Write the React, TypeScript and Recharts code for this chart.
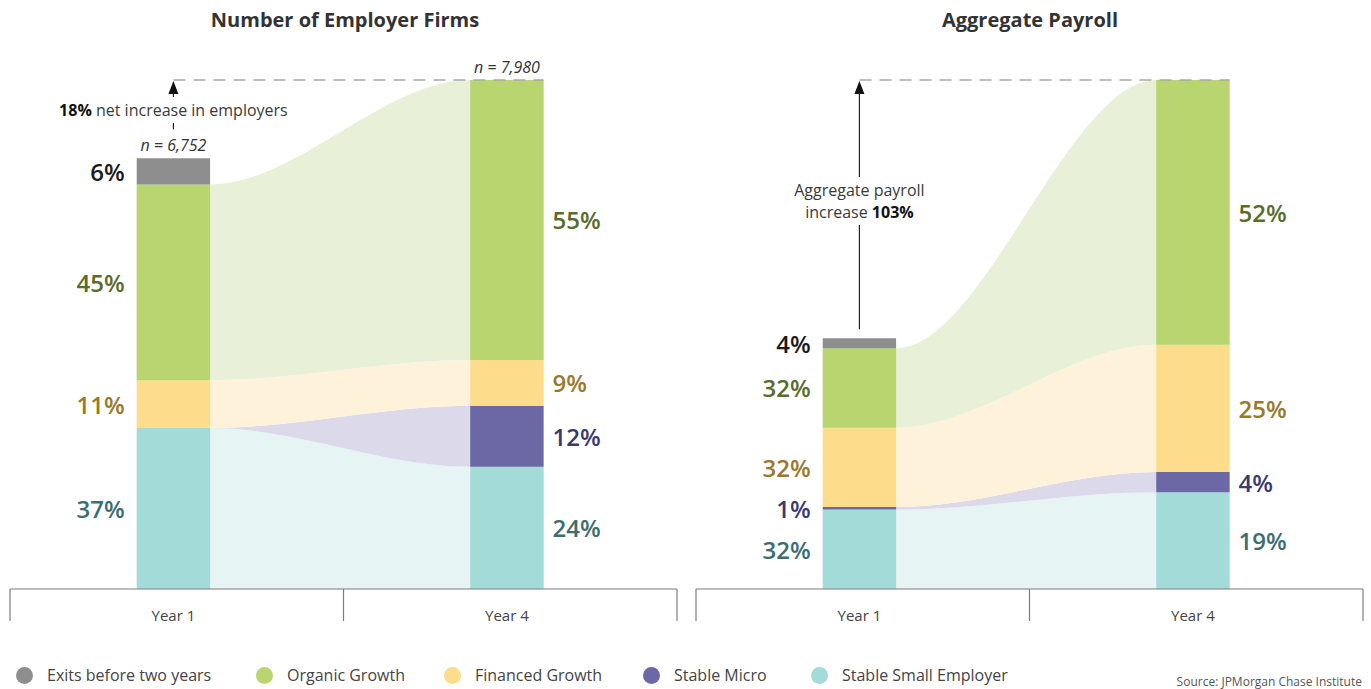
import React from "react";
import { ComposedChart, Area, XAxis, YAxis, ReferenceLine, ReferenceDot } from "recharts";

// legend order; stacked bottom -> top as Stable Small, Micro, Financed, Organic, Exits
const categories = [
  "Exits before two years",
  "Organic Growth",
  "Financed Growth",
  "Stable Micro",
  "Stable Small Employer",
];
const yearLabels = ["Year 1", "Year 4"];

// shares (%) per category
const firmsYear1 = [6, 45, 11, 0, 37];
const firmsYear4 = [0, 55, 9, 12, 24];
const firmsTotals = [6752, 7980];

const payrollYear1 = [4, 32, 32, 1, 32];
const payrollYear4 = [0, 52, 25, 4, 19];
const payrollTotals = [100, 203]; // index, +103%

const barColors = ["#8e8e8e", "#b9d56f", "#fddc8b", "#6c68a6", "#a3dbd9"];
const flowColors = ["none", "#e8f1d8", "#fef3da", "#dcd9ea", "#e6f4f3"];
const labelColors = ["#1b1b1b", "#5a6c2c", "#9a782c", "#3b3972", "#3d6e6f"];

const FONT = "'Open Sans', 'DejaVu Sans', sans-serif";
const BAR_HALF = 0.11;
const CENTER = 0.49; // bar / label position inside each year band
const STACK_ORDER = [4, 3, 2, 1, 0];

function stack(pcts: number[], total: number): [number, number][] {
  const sum = pcts.reduce((a, b) => a + b, 0);
  const out: [number, number][] = new Array(pcts.length);
  let acc = 0;
  STACK_ORDER.forEach((k) => {
    const v = (pcts[k] / sum) * total;
    out[k] = [acc, acc + v];
    acc += v;
  });
  return out;
}

type Note = {
  lines: React.ReactNode[];
  center: number; // px below the top line
  bottomGap: number; // px above year 1 bar
};

function Panel({
  year1,
  year4,
  totals,
  note,
  showN,
  width,
  marginRight,
}: {
  year1: number[];
  year4: number[];
  totals: number[];
  note: Note;
  showN: boolean;
  width: number;
  marginRight: number;
}) {
  const pcts = [year1, year4];
  const segs = [stack(year1, totals[0]), stack(year4, totals[1])];
  const centers = yearLabels.map((_, i) => i + CENTER);
  const xs = [
    centers[0] - BAR_HALF,
    centers[0] + BAR_HALF,
    centers[1] - BAR_HALF,
    centers[1] + BAR_HALF,
  ];
  const rows = xs.map((x, i) => {
    const yr = i < 2 ? 0 : 1;
    const row: Record<string, any> = { x };
    categories.forEach((_, k) => {
      row[`flow${k}`] = segs[yr][k];
      row[`bar0_${k}`] = yr === 0 ? segs[0][k] : null;
      row[`bar1_${k}`] = yr === 1 ? segs[1][k] : null;
    });
    return row;
  });

  const arrowShape = (p: any) => {
    const x = p.x1;
    const yBottom = Math.max(p.y1, p.y2);
    const yTop = Math.min(p.y1, p.y2);
    const lh = 22;
    const mid = yTop + note.center;
    const textTop = mid - (note.lines.length * lh) / 2;
    const textBottom = mid + (note.lines.length * lh) / 2;
    return (
      <g>
        <polygon
          points={`${x},${yTop + 1} ${x - 5},${yTop + 14} ${x + 5},${yTop + 14}`}
          fill="#111"
        />
        <line x1={x} x2={x} y1={yTop + 12} y2={textTop - 2} stroke="#222" strokeWidth={1.2} />
        {note.lines.map((l, i) => (
          <text
            key={i}
            x={x}
            y={textTop + lh * i + lh / 2}
            textAnchor="middle"
            dominantBaseline="central"
            fontSize={16}
            fill="#3a3a3a"
            fontFamily={FONT}
          >
            {l}
          </text>
        ))}
        <line
          x1={x}
          x2={x}
          y1={textBottom + 2}
          y2={yBottom - note.bottomGap}
          stroke="#222"
          strokeWidth={1.2}
        />
      </g>
    );
  };

  return (
    <ComposedChart
      width={width}
      height={640}
      data={rows}
      margin={{ top: 80, right: marginRight, bottom: 0, left: 10 }}
    >
      <XAxis
        dataKey="x"
        type="number"
        domain={[0, 2]}
        ticks={[0, CENTER, 1, 1 + CENTER, 2]}
        interval={0}
        height={51}
        tickSize={0}
        tickMargin={0}
        tickLine={false}
        axisLine={{ stroke: "#7d7d7d", strokeWidth: 1.2 }}
        tick={(p: any) => {
          const v = p.payload.value;
          if (Number.isInteger(v)) {
            return (
              <line x1={p.x} x2={p.x} y1={p.y} y2={p.y + 32} stroke="#7d7d7d" strokeWidth={1.2} />
            );
          }
          return (
            <text
              x={p.x}
              y={p.y + 26}
              textAnchor="middle"
              dominantBaseline="central"
              fontSize={15}
              fill="#444"
              fontFamily={FONT}
            >
              {yearLabels[Math.floor(v)]}
            </text>
          );
        }}
      />
      <YAxis hide type="number" domain={[0, totals[1]]} />

      {STACK_ORDER.filter((k) => flowColors[k] !== "none").map((k) => (
        <Area
          key={`flow${k}`}
          dataKey={`flow${k}`}
          type="monotone"
          stroke="none"
          fill={flowColors[k]}
          fillOpacity={1}
          dot={false}
          activeDot={false}
          isAnimationActive={false}
        />
      ))}
      {[0, 1].map((yr) =>
        STACK_ORDER.filter((k) => pcts[yr][k] > 0).map((k) => (
          <Area
            key={`bar${yr}_${k}`}
            dataKey={`bar${yr}_${k}`}
            type="linear"
            stroke="none"
            fill={barColors[k]}
            fillOpacity={1}
            dot={false}
            activeDot={false}
            isAnimationActive={false}
          />
        ))
      )}

      <ReferenceLine
        segment={[
          { x: centers[0], y: totals[1] },
          { x: centers[1] + BAR_HALF, y: totals[1] },
        ]}
        stroke="#a8a8a8"
        strokeWidth={1.5}
        strokeDasharray="12 8"
      />
      <ReferenceLine
        segment={[
          { x: centers[0], y: totals[0] },
          { x: centers[0], y: totals[1] },
        ]}
        shape={arrowShape}
      />

      {[0, 1].map((yr) =>
        categories.map((_, k) => {
          if (pcts[yr][k] <= 0) return null;
          const [lo, hi] = segs[yr][k];
          const edge = yr === 0 ? centers[0] - BAR_HALF : centers[1] + BAR_HALF;
          return (
            <ReferenceDot
              key={`lbl${yr}_${k}`}
              x={edge}
              y={(lo + hi) / 2}
              r={0}
              shape={(p: any) => (
                <text
                  x={yr === 0 ? p.cx - 12 : p.cx + 9}
                  y={p.cy}
                  textAnchor={yr === 0 ? "end" : "start"}
                  dominantBaseline="central"
                  fontSize={24}
                  fontWeight={600}
                  fill={labelColors[k]}
                  fontFamily={FONT}
                >
                  {pcts[yr][k]}%
                </text>
              )}
            />
          );
        })
      )}

      {showN &&
        [0, 1].map((yr) => (
          <ReferenceDot
            key={`n${yr}`}
            x={centers[yr]}
            y={totals[yr]}
            r={0}
            shape={(p: any) => (
              <text
                x={p.cx}
                y={p.cy - 13}
                textAnchor="middle"
                dominantBaseline="central"
                fontSize={16}
                fontStyle="italic"
                fill="#333"
                fontFamily={FONT}
              >
                n = {totals[yr].toLocaleString("en-US")}
              </text>
            )}
          />
        ))}
    </ComposedChart>
  );
}

const legendX = [16, 256, 444, 643, 811];

export default function App() {
  const title: React.CSSProperties = {
    position: "absolute",
    top: 6,
    width: 400,
    textAlign: "center",
    fontSize: 20,
    fontWeight: 700,
    color: "#333",
    lineHeight: "28px",
  };
  return (
    <div
      style={{
        position: "absolute",
        left: 0,
        top: 0,
        width: 1371,
        height: 689,
        overflow: "hidden",
        background: "#fff",
        fontFamily: FONT,
      }}
    >
      <div style={{ ...title, left: 345 - 200 }}>Number of Employer Firms</div>
      <div style={{ ...title, left: 1030 - 200 }}>Aggregate Payroll</div>

      <div style={{ position: "absolute", left: 0, top: 0 }}>
        <Panel
          year1={firmsYear1}
          year4={firmsYear4}
          totals={firmsTotals}
          showN
          width={687}
          marginRight={10}
          note={{
            lines: [
              <tspan key="a">
                <tspan fontWeight={700} fill="#111">18%</tspan> net increase in employers
              </tspan>,
            ],
            center: 30,
            bottomGap: 29,
          }}
        />
      </div>
      <div style={{ position: "absolute", left: 686, top: 0 }}>
        <Panel
          year1={payrollYear1}
          year4={payrollYear4}
          totals={payrollTotals}
          showN={false}
          width={685}
          marginRight={8}
          note={{
            lines: [
              "Aggregate payroll",
              <tspan key="b">
                increase <tspan fontWeight={700} fill="#111">103%</tspan>
              </tspan>,
            ],
            center: 121,
            bottomGap: 9,
          }}
        />
      </div>

      {categories.map((c, k) => (
        <div
          key={c}
          style={{
            position: "absolute",
            left: legendX[k],
            top: 664,
            height: 22,
            display: "flex",
            alignItems: "center",
            whiteSpace: "nowrap",
          }}
        >
          <span
            style={{
              width: 17,
              height: 17,
              borderRadius: "50%",
              background: barColors[k],
              display: "inline-block",
              marginRight: 14,
            }}
          />
          <span style={{ fontSize: 16, color: "#444" }}>{c}</span>
        </div>
      ))}
      <div
        style={{
          position: "absolute",
          right: 9,
          top: 673,
          fontSize: 12,
          color: "#555",
          whiteSpace: "nowrap",
        }}
      >
        Source: JPMorgan Chase Institute
      </div>
    </div>
  );
}
